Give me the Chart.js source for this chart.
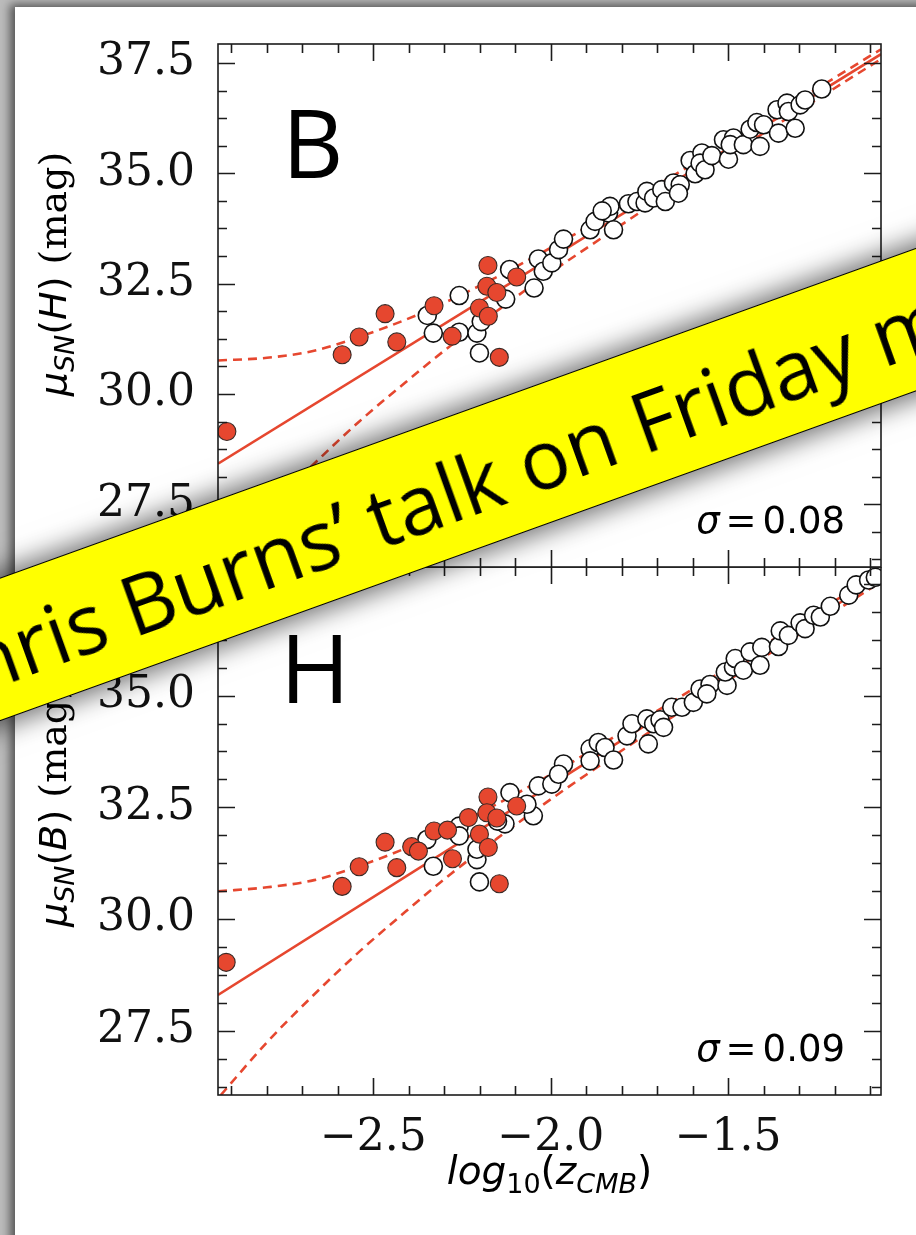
<!DOCTYPE html>
<html>
<head>
<meta charset="utf-8">
<script src="https://cdn.jsdelivr.net/npm/chart.js@4.4.0/dist/chart.umd.min.js"></script>
<style>
  html, body { margin: 0; padding: 0; }
  body { width: 916px; height: 1235px; overflow: hidden; position: relative; background: #bcbcbc; }
  #card { position: absolute; left: 15px; top: 7px; width: 960px; height: 1300px; background: #fff;
          box-shadow: -5px -3px 9px rgba(0,0,0,0.55); }
  canvas { position: absolute; left: 0; }
  #topPanel { top: 0; }
  #bottomPanel { top: 567px; }
  #banner { position: absolute; left: -242px; top: 417px; width: 1400px; height: 135px; box-sizing: border-box;
            background: #ffff00; border: 1.5px solid #000; transform: rotate(-19.8deg); transform-origin: 700px 67px;
            box-shadow: 0 0 24px 6px rgba(0,0,0,0.55); font-family: "Open Sans", sans-serif; font-size: 82px;
            line-height: 132px; padding-left: 125px; padding-top: 3px; white-space: nowrap; color: #000; }
</style>
</head>
<body>
<div id="card"></div>
<canvas id="topPanel" width="916" height="568"></canvas>
<canvas id="bottomPanel" width="916" height="668"></canvas>
<div id="banner">Chris Burns’ talk on Friday morning</div>
<script>
// axis limits and ticks
const xLimits = [-2.938, -1.069];
const yLimitsTop = [26.08, 37.93];
const yLimitsBottom = [26.06, 37.88];
const xTickValues = [-2.5, -2.0, -1.5];
const yTickValues = [27.5, 30.0, 32.5, 35.0, 37.5];

// top panel (mu_SN(H)), filled = calibrators, open = Hubble flow
const topCalibrators = [
  [-2.913, 29.15], [-2.588, 30.89], [-2.540, 31.29], [-2.467, 31.82], [-2.434, 31.18],
  [-2.329, 32.00], [-2.278, 31.31], [-2.177, 32.91], [-2.180, 32.44], [-2.152, 32.30],
  [-2.201, 31.95], [-2.176, 31.76], [-2.096, 32.65], [-2.145, 30.83]
];
const topHubbleFlow = [
  [-2.348, 31.78], [-2.331, 31.38], [-2.258, 32.23], [-2.258, 31.40], [-2.208, 31.38],
  [-2.201, 30.93], [-2.196, 31.64], [-2.116, 32.82], [-2.127, 32.15], [-2.047, 32.40],
  [-2.035, 33.06], [-2.021, 32.78], [-1.997, 32.97], [-1.978, 33.27], [-1.964, 33.51],
  [-1.889, 33.72], [-1.875, 33.91], [-1.837, 34.10], [-1.823, 33.72], [-1.833, 34.25],
  [-1.855, 34.15], [-1.781, 34.31], [-1.757, 34.36], [-1.734, 34.33], [-1.729, 34.59],
  [-1.710, 34.44], [-1.687, 34.63], [-1.677, 34.36], [-1.654, 34.78], [-1.635, 34.74],
  [-1.640, 34.55], [-1.607, 35.29], [-1.593, 34.99], [-1.574, 35.46], [-1.579, 35.23],
  [-1.565, 35.08], [-1.546, 35.40], [-1.513, 35.76], [-1.499, 35.32], [-1.485, 35.80],
  [-1.494, 35.65], [-1.457, 35.65], [-1.438, 36.00], [-1.419, 36.15], [-1.410, 35.61],
  [-1.400, 36.10], [-1.362, 36.44], [-1.358, 35.91], [-1.334, 36.59], [-1.330, 36.40],
  [-1.311, 36.02], [-1.297, 36.55], [-1.283, 36.66], [-1.236, 36.91]
];
const topFit = [[-2.938, 28.42], [-1.069, 37.70]];
const topUpper = [
  [-2.938, 30.76], [-2.800, 30.82], [-2.667, 30.98], [-2.538, 31.30], [-2.410, 31.68],
  [-2.280, 32.14], [-2.150, 32.66], [-2.030, 33.18], [-1.900, 33.77], [-1.700, 34.73],
  [-1.500, 35.69], [-1.300, 36.67], [-1.069, 37.81]
];
const topLower = [
  [-2.930, 26.08], [-2.800, 27.36], [-2.667, 28.42], [-2.538, 29.39], [-2.410, 30.26],
  [-2.280, 31.11], [-2.150, 31.89], [-2.030, 32.59], [-1.900, 33.30], [-1.700, 34.37],
  [-1.500, 35.40], [-1.300, 36.42], [-1.069, 37.59]
];

// bottom panel (mu_SN(B))
const bottomCalibrators = [
  [-2.915, 29.03], [-2.588, 30.73], [-2.540, 31.17], [-2.467, 31.72], [-2.434, 31.15],
  [-2.392, 31.62], [-2.373, 31.52], [-2.329, 31.97], [-2.291, 31.99], [-2.277, 31.35],
  [-2.232, 32.27], [-2.177, 32.73], [-2.180, 32.38], [-2.152, 32.26], [-2.201, 31.90],
  [-2.176, 31.60], [-2.096, 32.53], [-2.145, 30.79]
];
const bottomHubbleFlow = [
  [-2.349, 31.78], [-2.331, 31.18], [-2.258, 32.08], [-2.258, 31.86], [-2.208, 31.33],
  [-2.208, 31.56], [-2.201, 30.83], [-2.115, 32.83], [-2.129, 32.13], [-2.150, 32.19],
  [-2.049, 32.31], [-2.035, 32.98], [-2.067, 32.57], [-1.997, 33.02], [-1.964, 33.47],
  [-1.978, 33.24], [-1.889, 33.81], [-1.889, 33.54], [-1.866, 33.95], [-1.847, 33.84],
  [-1.823, 33.56], [-1.785, 34.10], [-1.771, 34.37], [-1.729, 34.48], [-1.725, 33.92],
  [-1.710, 34.37], [-1.692, 34.46], [-1.682, 34.29], [-1.659, 34.74], [-1.630, 34.74],
  [-1.598, 34.85], [-1.579, 35.15], [-1.551, 35.25], [-1.560, 35.04], [-1.503, 35.23],
  [-1.508, 35.53], [-1.485, 35.64], [-1.480, 35.83], [-1.457, 35.57], [-1.438, 35.98],
  [-1.410, 35.68], [-1.405, 36.08], [-1.358, 36.10], [-1.353, 36.45], [-1.330, 36.35],
  [-1.297, 36.63], [-1.283, 36.50], [-1.259, 36.80], [-1.240, 36.76], [-1.212, 37.00],
  [-1.160, 37.25], [-1.139, 37.48], [-1.104, 37.59], [-1.085, 37.65]
];
const bottomFit = [[-2.938, 28.30], [-1.069, 37.66]];
const bottomUpper = [
  [-2.938, 30.62], [-2.800, 30.71], [-2.667, 30.87], [-2.538, 31.19], [-2.410, 31.58],
  [-2.280, 32.05], [-2.150, 32.58], [-2.030, 33.10], [-1.900, 33.70], [-1.700, 34.66],
  [-1.500, 35.63], [-1.300, 36.62], [-1.069, 37.77]
];
const bottomLower = [
  [-2.930, 26.06], [-2.800, 27.24], [-2.667, 28.31], [-2.538, 29.28], [-2.410, 30.16],
  [-2.280, 31.02], [-2.150, 31.81], [-2.030, 32.51], [-1.900, 33.23], [-1.700, 34.30],
  [-1.500, 35.34], [-1.300, 36.37], [-1.069, 37.55]
];

const RED = '#e6472f';
const toXY = arr => arr.map(p => ({ x: p[0], y: p[1] }));
const minus = v => v.toFixed(1).replace('-', '\u2212');

function drawRuns(ctx, runs, x, y, align) {
  let w = 0;
  runs.forEach(r => { ctx.font = r.font; r.w = ctx.measureText(r.text).width + (r.gap || 0); w += r.w; });
  let cx = align === 'center' ? x - w / 2 : align === 'right' ? x - w : x;
  runs.forEach(r => { ctx.font = r.font; ctx.fillText(r.text, cx, y + (r.dy || 0)); cx += r.w; });
}

// box + inward ticks on all four sides
const frame = {
  id: 'frame',
  afterDatasetsDraw(chart) {
    const { ctx, chartArea: a } = chart;
    const x = chart.scales.x, y = chart.scales.y;
    ctx.save();
    ctx.strokeStyle = '#1c1c1c';
    ctx.lineWidth = 1.6;
    ctx.beginPath();
    for (let k = -29; k <= -11; k++) {
      const v = k / 10;
      const p = Math.round(x.getPixelForValue(v)) + 0.5;
      const len = xTickValues.some(t => Math.abs(t - v) < 1e-6) ? 17 : 9;
      ctx.moveTo(p, a.bottom); ctx.lineTo(p, a.bottom - len);
      ctx.moveTo(p, a.top); ctx.lineTo(p, a.top + len);
    }
    for (let k = -2; k <= 16; k++) {
      const v = 27.5 + k * 0.625;
      if (v < y.min || v > y.max) continue;
      const p = Math.round(y.getPixelForValue(v)) + 0.5;
      const len = k % 4 === 0 ? 17 : 9;
      ctx.moveTo(a.left, p); ctx.lineTo(a.left + len, p);
      ctx.moveTo(a.right, p); ctx.lineTo(a.right - len, p);
    }
    ctx.stroke();
    ctx.strokeRect(a.left, a.top, a.right - a.left, a.bottom - a.top);
    ctx.restore();
  }
};

// panel letter, sigma, axis titles
const labels = {
  id: 'labels',
  afterDraw(chart, args, o) {
    const ctx = chart.ctx;
    ctx.save();
    ctx.fillStyle = '#000';
    ctx.textBaseline = 'alphabetic';
    ctx.font = '95px "Open Sans"';
    ctx.fillText(o.letter, o.letterX, o.letterY);
    drawRuns(ctx, [
      { text: '\u03c3', font: 'italic 37px "DejaVu Sans"', gap: 6 },
      { text: '=', font: '37px "DejaVu Sans"', gap: 6 },
      { text: o.sigma, font: '37px "DejaVu Sans"' }
    ], 845, o.sigmaY, 'right');
    ctx.save();
    ctx.translate(66, o.yTitleY);
    ctx.rotate(-Math.PI / 2);
    drawRuns(ctx, [
      { text: '\u03bc', font: 'italic 38px "DejaVu Sans"' },
      { text: 'SN', font: 'italic 27px "DejaVu Sans"', dy: 8 },
      { text: '(', font: '38px "DejaVu Sans"' },
      { text: o.band, font: 'italic 38px "DejaVu Sans"' },
      { text: ')', font: '38px "DejaVu Sans"' },
      { text: ' (mag)', font: '38px "DejaVu Serif"' }
    ], 0, 0, 'center');
    ctx.restore();
    if (o.xTitle) {
      drawRuns(ctx, [
        { text: 'log', font: 'italic 39px "DejaVu Sans"' },
        { text: '10', font: '27px "DejaVu Sans"', dy: 9 },
        { text: '(', font: '39px "DejaVu Sans"' },
        { text: 'z', font: 'italic 39px "DejaVu Sans"' },
        { text: 'CMB', font: 'italic 27px "DejaVu Sans"', dy: 9 },
        { text: ')', font: '39px "DejaVu Sans"' }
      ], (chart.chartArea.left + chart.chartArea.right) / 2, 617, 'center');
    }
    ctx.restore();
  }
};

function panel(canvasId, calib, flow, fit, upper, lower, yLim, showX, text, pad) {
  const lineStyle = { type: 'line', showLine: true, pointRadius: 0, borderColor: RED, borderWidth: 2.6,
                      fill: false, cubicInterpolationMode: 'monotone', order: 3, clip: 0 };
  return new Chart(document.getElementById(canvasId), {
    type: 'scatter',
    data: {
      datasets: [
        { ...lineStyle, data: toXY(fit) },
        { ...lineStyle, data: toXY(upper), borderDash: [9, 6] },
        { ...lineStyle, data: toXY(lower), borderDash: [9, 6] },
        { data: toXY(flow), pointRadius: 9, pointBackgroundColor: '#fff', pointBorderColor: '#111',
          pointBorderWidth: 1.6, order: 2, clip: 0 },
        { data: toXY(calib), pointRadius: 9, pointBackgroundColor: RED, pointBorderColor: '#3a2a26',
          pointBorderWidth: 1.1, order: 1, clip: 0 }
      ]
    },
    options: {
      responsive: false,
      animation: false,
      layout: { padding: pad, autoPadding: false },
      plugins: { legend: { display: false }, tooltip: { enabled: false }, labels: text },
      scales: {
        x: {
          type: 'linear', min: xLimits[0], max: xLimits[1], display: showX,
          afterBuildTicks: s => { s.ticks = xTickValues.map(v => ({ value: v })); },
          afterFit: s => { s.height = showX ? 140 : 0; s.paddingLeft = 0; s.paddingRight = 0; },
          grid: { display: false, drawTicks: false }, border: { display: false },
          ticks: { autoSkip: false, maxRotation: 0, padding: 17, color: '#111',
                   font: { family: 'DejaVu Serif', size: 44 }, callback: v => minus(v) }
        },
        y: {
          type: 'linear', min: yLim[0], max: yLim[1],
          afterBuildTicks: s => { s.ticks = yTickValues.map(v => ({ value: v })); },
          afterFit: s => { s.width = 218; s.paddingTop = 0; s.paddingBottom = 0; },
          grid: { display: false, drawTicks: false }, border: { display: false },
          ticks: { autoSkip: false, padding: 23, color: '#111',
                   font: { family: 'DejaVu Serif', size: 44 }, callback: v => v.toFixed(1) }
        }
      }
    },
    plugins: [frame, labels]
  });
}

panel('topPanel', topCalibrators, topHubbleFlow, topFit, topUpper, topLower, yLimitsTop, false,
  { letter: 'B', letterX: 282, letterY: 178, sigma: '0.08', sigmaY: 533, band: 'H', yTitleY: 274, xTitle: false },
  { top: 44, right: 35, bottom: 1, left: 0 });

panel('bottomPanel', bottomCalibrators, bottomHubbleFlow, bottomFit, bottomUpper, bottomLower, yLimitsBottom, true,
  { letter: 'H', letterX: 280, letterY: 136, sigma: '0.09', sigmaY: 494, band: 'B', yTitleY: 239, xTitle: true },
  { top: 0, right: 35, bottom: 0, left: 0 });
</script>
</body>
</html>
